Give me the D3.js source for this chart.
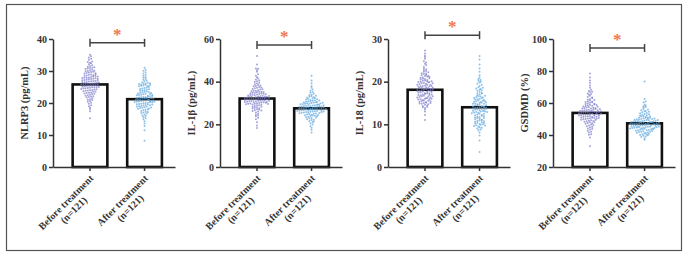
<!DOCTYPE html>
<html>
<head>
<meta charset="utf-8">
<script src="https://cdn.jsdelivr.net/npm/d3@7"></script>
<style>
  body { margin: 0; background: #fff; }
  svg text { font-family: "Liberation Serif", "DejaVu Serif", serif; font-weight: bold; fill: #333; }
</style>
</head>
<body>
<div class="chart"></div>
<script>
"use strict";

// ---- data ----
const GROUPS = ["Before treatment", "After treatment"];
const N_LABEL = "(n=121)";
const Y_LABELS = ["NLRP3 (pg/mL)", "IL-1β (pg/mL)", "IL-18 (pg/mL)", "GSDMD (%)"];
const Y_DOMAINS = [[0, 40], [0, 60], [0, 30], [20, 100]];
const Y_TICKS = [[0, 10, 20, 30, 40], [0, 20, 40, 60], [0, 10, 20, 30], [20, 40, 60, 80, 100]];
const MEANS = [[25.8, 21.2], [32.1, 27.5], [18.1, 14.0], [53.8, 47.3]];
const BRACKET = [38.8, 57.2, 30.9, 94.4];

const nlrp3Before = [15.2, 17.4, 18.1, 18.6, 19.0, 19.3, 19.8, 20.1, 20.4, 20.6, 20.9,
  21.0, 21.2, 21.5, 21.7, 21.9, 22.0, 22.1, 22.3, 22.4, 22.6, 22.8, 22.9,
  23.0, 23.1, 23.2, 23.3, 23.5, 23.6, 23.7, 23.8, 23.9,
  24.0, 24.1, 24.2, 24.3, 24.4, 24.5, 24.6, 24.7, 24.8, 24.9, 24.9,
  25.0, 25.0, 25.1, 25.2, 25.3, 25.4, 25.5, 25.6, 25.6, 25.7, 25.8, 25.9, 25.9,
  26.0, 26.0, 26.1, 26.2, 26.3, 26.4, 26.5, 26.5, 26.6, 26.7, 26.8, 26.9, 26.9,
  27.0, 27.1, 27.2, 27.3, 27.4, 27.5, 27.6, 27.7, 27.8, 27.9, 27.9, 27.5,
  28.0, 28.1, 28.3, 28.4, 28.5, 28.6, 28.8, 28.9, 28.2, 28.7,
  29.0, 29.2, 29.4, 29.5, 29.7, 29.8, 29.9, 29.3,
  30.0, 30.2, 30.4, 30.6, 30.8, 30.9, 30.1,
  31.0, 31.3, 31.6, 31.8, 31.2, 32.1, 32.4, 32.8, 32.6,
  33.0, 33.5, 33.8, 34.2, 34.6, 35.1];
const nlrp3After = [8.2, 11.5, 12.8, 13.6, 14.3, 14.9, 15.2, 15.6, 15.9,
  16.1, 16.4, 16.7, 16.9, 17.0, 17.3, 17.5, 17.8, 17.9,
  18.0, 18.2, 18.4, 18.5, 18.7, 18.8, 18.9, 18.3,
  19.0, 19.1, 19.2, 19.4, 19.5, 19.6, 19.7, 19.8, 19.9, 19.3, 19.5,
  20.0, 20.1, 20.2, 20.3, 20.4, 20.5, 20.6, 20.7, 20.8, 20.9, 20.2, 20.5, 20.7,
  21.0, 21.1, 21.2, 21.3, 21.4, 21.5, 21.6, 21.7, 21.8, 21.9, 21.2, 21.5, 21.8,
  22.0, 22.1, 22.2, 22.4, 22.5, 22.6, 22.7, 22.9, 22.3, 22.8,
  23.0, 23.2, 23.3, 23.5, 23.6, 23.8, 23.9, 23.4,
  24.0, 24.2, 24.4, 24.5, 24.7, 24.9, 24.3,
  25.0, 25.2, 25.4, 25.5, 25.7, 25.9, 25.3, 25.6, 25.8,
  26.0, 26.1, 26.3, 26.5, 26.8, 26.2, 27.0, 27.3, 27.6, 27.9,
  28.1, 28.5, 28.8, 29.2, 29.6, 30.1, 30.4, 31.0,
  17.2, 18.6, 20.4, 21.4, 22.5, 23.1];

const il1bBefore = [18.3, 19.5, 21.0, 22.4, 23.1, 23.8, 24.5, 25.0, 25.6,
  26.0, 26.3, 26.7, 27.1, 27.4, 27.8, 28.0, 28.3, 28.6, 28.9, 26.9,
  29.0, 29.2, 29.4, 29.6, 29.8, 29.3, 29.7, 29.9,
  30.0, 30.2, 30.3, 30.5, 30.6, 30.8, 30.9, 30.1, 30.4, 30.7,
  31.0, 31.1, 31.3, 31.4, 31.6, 31.7, 31.9, 31.2, 31.5, 31.8,
  32.0, 32.1, 32.3, 32.4, 32.6, 32.8, 32.9, 32.2, 32.5, 32.7,
  33.0, 33.2, 33.4, 33.5, 33.7, 33.9, 33.1, 33.6,
  34.0, 34.2, 34.4, 34.6, 34.8, 34.3, 34.7,
  35.0, 35.3, 35.5, 35.8, 35.2, 35.6, 36.0, 36.3, 36.6, 36.9, 36.4,
  37.1, 37.5, 37.8, 37.3, 38.0, 38.4, 38.8, 38.2, 39.1, 39.5, 39.9,
  40.2, 40.6, 41.0, 41.5, 42.1, 42.8, 43.5, 44.6, 45.3, 46.2, 46.0, 48.1, 52.0,
  27.5, 28.2, 29.5, 30.5, 31.0, 31.6, 32.3, 32.9, 33.3, 34.1, 35.1, 26.5, 24.1];
const il1bAfter = [16.2, 17.5, 18.4, 19.2, 19.9, 20.5, 21.0, 21.6, 22.0, 22.4, 22.8,
  23.0, 23.3, 23.6, 23.9, 24.1, 24.3, 24.6, 24.8, 24.0, 24.5,
  25.0, 25.2, 25.4, 25.6, 25.8, 25.1, 25.5, 25.9,
  26.0, 26.1, 26.3, 26.4, 26.6, 26.7, 26.9, 26.2, 26.5, 26.8,
  27.0, 27.1, 27.2, 27.4, 27.5, 27.7, 27.8, 27.9, 27.3, 27.6, 27.0,
  28.0, 28.1, 28.3, 28.4, 28.6, 28.7, 28.9, 28.2, 28.5, 28.8,
  29.0, 29.2, 29.4, 29.5, 29.7, 29.9, 29.1, 29.6,
  30.0, 30.2, 30.4, 30.6, 30.8, 30.3, 30.7,
  31.0, 31.3, 31.6, 31.9, 31.4, 32.1, 32.5, 32.9, 32.3, 33.2, 33.6, 33.9,
  34.3, 34.8, 35.2, 35.7, 36.3, 37.1, 38.0, 39.2, 40.5, 42.8,
  21.3, 22.2, 23.1, 23.8, 24.4, 25.3, 25.7, 26.0, 26.4, 26.9, 27.2, 27.6,
  28.0, 28.4, 28.9, 29.3, 29.8, 30.1, 30.5, 31.2, 31.7, 32.7, 33.4];

const il18Before = [11.0, 12.2, 13.0, 13.5, 14.0, 14.3, 14.6, 14.9, 14.4, 14.8,
  15.0, 15.1, 15.3, 15.4, 15.6, 15.8, 15.9, 15.2, 15.5, 15.7,
  16.0, 16.1, 16.3, 16.4, 16.6, 16.7, 16.9, 16.2, 16.5, 16.8,
  17.0, 17.1, 17.2, 17.4, 17.5, 17.7, 17.8, 17.9, 17.3, 17.6,
  18.0, 18.1, 18.2, 18.3, 18.5, 18.6, 18.8, 18.9, 18.4, 18.7, 18.0, 18.5,
  19.0, 19.1, 19.3, 19.4, 19.6, 19.7, 19.9, 19.2, 19.5, 19.8,
  20.0, 20.2, 20.3, 20.5, 20.7, 20.9, 20.1, 20.6,
  21.0, 21.3, 21.5, 21.8, 21.2, 21.6, 22.0, 22.3, 22.7, 22.5,
  23.1, 23.5, 23.9, 24.2, 24.8, 25.4, 26.1, 26.6, 27.3,
  13.8, 14.1, 14.7, 15.0, 15.4, 15.9, 16.0, 16.3, 16.6, 16.9, 17.0, 17.3, 17.6,
  17.9, 18.1, 18.3, 18.6, 18.9, 19.0, 19.3, 19.6, 19.9, 20.1, 20.4, 20.8,
  21.1, 21.4, 21.9, 22.2, 22.9, 24.5, 25.8];
const il18After = [3.5, 6.2, 7.4, 8.1, 8.6, 9.0, 9.3, 9.6, 9.8, 9.5, 9.9,
  10.0, 10.2, 10.4, 10.6, 10.8, 10.1, 10.5, 10.9,
  11.0, 11.2, 11.4, 11.6, 11.8, 11.3, 11.7,
  12.0, 12.1, 12.3, 12.5, 12.6, 12.8, 12.9, 12.2, 12.7,
  13.0, 13.1, 13.2, 13.4, 13.5, 13.7, 13.8, 13.9, 13.3, 13.6, 13.0,
  14.0, 14.1, 14.2, 14.4, 14.5, 14.6, 14.8, 14.9, 14.3, 14.7, 14.0,
  15.0, 15.1, 15.3, 15.4, 15.6, 15.8, 15.2, 15.5, 15.9,
  16.0, 16.2, 16.4, 16.6, 16.8, 16.1, 16.5, 17.0, 17.3, 17.6, 17.9, 17.2,
  18.1, 18.4, 18.7, 18.3, 19.0, 19.5, 19.8,
  20.2, 20.6, 21.0, 21.5, 22.3, 23.1, 24.0, 25.2, 26.0,
  8.8, 9.2, 9.7, 10.3, 10.7, 11.1, 11.5, 11.9, 12.4, 12.9, 13.3, 13.6, 13.9,
  14.2, 14.5, 14.8, 15.1, 15.4, 15.7, 16.3, 16.7, 17.4, 18.0, 18.6, 19.3, 20.0, 20.4];

const gsdmdBefore = [33.0, 38.5, 40.2, 41.5, 42.6, 43.4, 44.1, 44.8, 45.5, 46.0, 46.6,
  47.1, 47.5, 47.9, 48.3, 48.6, 48.9, 49.2, 49.5, 49.8,
  50.0, 50.3, 50.5, 50.8, 51.0, 51.2, 51.5, 51.7, 51.9, 50.6, 51.3,
  52.0, 52.2, 52.4, 52.6, 52.8, 53.0, 53.2, 53.4, 53.6, 53.8, 52.5, 53.1,
  54.0, 54.2, 54.4, 54.6, 54.8, 55.0, 55.2, 55.4, 55.6, 55.8, 54.5, 55.1,
  56.0, 56.3, 56.6, 56.9, 57.2, 57.5, 57.8, 56.5, 57.0,
  58.1, 58.5, 58.9, 59.3, 59.7, 58.3, 59.0,
  60.1, 60.6, 61.0, 61.5, 62.0, 60.4, 62.5, 63.1, 63.8, 64.5,
  65.2, 66.0, 66.8, 67.5, 68.3, 69.5, 71.0, 72.5, 74.0, 76.0, 78.5,
  40.5, 42.0, 43.8, 45.0, 46.3, 47.3, 48.0, 48.8, 49.4, 50.1, 50.7, 51.4,
  52.1, 52.7, 53.3, 53.9, 54.3, 54.9, 55.5, 56.2, 56.8, 57.6, 58.7, 59.5,
  60.8, 61.8, 63.4, 65.7, 67.0];
const gsdmdAfter = [37.0, 38.0, 38.8, 39.5, 40.0, 40.5, 41.0, 41.4, 41.8,
  42.1, 42.4, 42.7, 43.0, 43.3, 43.6, 43.9,
  44.1, 44.3, 44.5, 44.7, 44.9, 44.2, 44.6,
  45.0, 45.2, 45.4, 45.6, 45.8, 45.1, 45.5, 45.9,
  46.0, 46.2, 46.4, 46.6, 46.8, 46.1, 46.5, 46.9,
  47.0, 47.2, 47.4, 47.6, 47.8, 47.1, 47.5, 47.9,
  48.0, 48.2, 48.4, 48.6, 48.8, 48.3, 48.7,
  49.0, 49.3, 49.6, 49.9, 49.2, 49.7, 50.0, 50.4, 50.8, 50.2, 50.6,
  51.0, 51.5, 51.9, 51.3, 52.2, 52.7, 53.1, 53.6, 54.2, 54.8, 55.5, 56.3,
  57.2, 58.0, 59.1, 60.5, 62.5, 73.5,
  39.0, 39.8, 40.3, 40.8, 41.2, 41.6, 42.0, 42.5, 42.9, 43.2, 43.5, 43.8,
  44.0, 44.4, 44.8, 45.3, 45.7, 46.3, 46.7, 47.3, 47.7, 48.1, 48.5, 48.9,
  49.4, 49.8, 50.3, 50.9, 51.7, 52.4, 53.0, 53.8, 54.5, 55.0, 56.0, 57.5, 58.5, 61.0];

const POINTS = [
  [nlrp3Before, nlrp3After],
  [il1bBefore, il1bAfter],
  [il18Before, il18After],
  [gsdmdBefore, gsdmdAfter],
];

// ---- layout ----
const WIDTH = 691, HEIGHT = 262;
const PANEL_X = [53, 220, 388, 553];
const PANEL_W = 122;
const TOP = 39, BOTTOM = 167;
const DOT_COLORS = ["#7d7ccb", "#5ca6de"];
const DOT_R = 1.0, DOT_STEP = 2.2;

const svg = d3.select(".chart").append("svg")
  .attr("width", WIDTH).attr("height", HEIGHT);

// outer frame
svg.append("rect")
  .attr("x", 6.5).attr("y", 4.5)
  .attr("width", 675).attr("height", 246)
  .attr("fill", "none").attr("stroke", "#555").attr("stroke-width", 1.2);

// simple dot-plot layout: bin by pixel row, spread points sideways
function swarm(values, y, cx) {
  const rows = d3.group(values, (v) => Math.round(y(v) / DOT_STEP));
  const out = [];
  for (const [row, vals] of rows) {
    vals.forEach((v, i) => {
      out.push({ x: cx + (i - (vals.length - 1) / 2) * DOT_STEP, y: y(v) });
    });
  }
  return out;
}

function drawPanel(p) {
  const x0 = PANEL_X[p];
  const g = svg.append("g");

  const y = d3.scaleLinear().domain(Y_DOMAINS[p]).range([BOTTOM, TOP]);
  const x = d3.scaleBand().domain(GROUPS)
    .range([x0, x0 + PANEL_W])
    .paddingInner(20 / 55)
    .paddingOuter(0.3)
    .align(0.6);

  // bars
  g.selectAll("rect.bar")
    .data(GROUPS)
    .join("rect")
    .attr("class", "bar")
    .attr("x", (d) => x(d))
    .attr("y", (d, i) => y(MEANS[p][i]))
    .attr("width", x.bandwidth())
    .attr("height", (d, i) => BOTTOM - y(MEANS[p][i]))
    .attr("fill", "#fff")
    .attr("stroke", "#111")
    .attr("stroke-width", 2.6);

  // dots
  GROUPS.forEach((grp, i) => {
    const cx = x(grp) + x.bandwidth() / 2;
    g.append("g").selectAll("circle")
      .data(swarm(POINTS[p][i], y, cx))
      .join("circle")
      .attr("cx", (d) => d.x)
      .attr("cy", (d) => d.y)
      .attr("r", DOT_R)
      .attr("fill", DOT_COLORS[i])
      .attr("fill-opacity", 0.7);
  });

  // axes
  const yAxis = g.append("g")
    .attr("transform", `translate(${x0},0)`)
    .call(d3.axisLeft(y).tickValues(Y_TICKS[p]).tickSize(4).tickSizeOuter(0).tickPadding(2));
  const xAxis = g.append("g")
    .attr("transform", `translate(0,${BOTTOM})`)
    .call(d3.axisBottom(x).tickSize(4).tickSizeOuter(0).tickFormat(""));
  [yAxis, xAxis].forEach((a) => {
    a.select(".domain").attr("stroke", "#333").attr("stroke-width", 1.5);
    a.selectAll(".tick line").attr("stroke", "#333").attr("stroke-width", 1.5);
  });
  yAxis.selectAll(".tick text")
    .attr("font-size", 10)
    .attr("font-family", "Liberation Serif, serif")
    .attr("font-weight", "bold")
    .attr("fill", "#333");

  // y label
  g.append("text")
    .attr("transform", `translate(${x0 - 25},${(TOP + BOTTOM) / 2}) rotate(-90)`)
    .attr("text-anchor", "middle")
    .attr("font-size", 10.5)
    .text(Y_LABELS[p]);

  // x labels (rotated)
  GROUPS.forEach((grp) => {
    const cx = x(grp) + x.bandwidth() / 2;
    const lg = g.append("g")
      .attr("transform", `translate(${cx + 4},${BOTTOM + 12}) rotate(-45)`);
    const t1 = lg.append("text")
      .attr("text-anchor", "end")
      .attr("font-size", 10)
      .text(grp);
    const w = t1.node().getComputedTextLength();
    lg.append("text")
      .attr("x", -w / 2)
      .attr("y", 11)
      .attr("text-anchor", "middle")
      .attr("font-size", 10)
      .text(N_LABEL);
  });

  // significance bracket
  const c1 = x(GROUPS[0]) + x.bandwidth() / 2;
  const c2 = x(GROUPS[1]) + x.bandwidth() / 2;
  const by = y(BRACKET[p]);
  const br = g.append("g").attr("stroke", "#444").attr("stroke-width", 1.5);
  br.append("line").attr("x1", c1).attr("x2", c2).attr("y1", by).attr("y2", by);
  [c1, c2].forEach((cx) => {
    br.append("line").attr("x1", cx).attr("x2", cx).attr("y1", by - 4).attr("y2", by + 4);
  });
  g.append("text")
    .attr("x", (c1 + c2) / 2)
    .attr("y", by - 3)
    .attr("text-anchor", "middle")
    .attr("font-size", 17)
    .attr("font-family", "DejaVu Sans, sans-serif")
    .style("fill", "#f07850")
    .text("*");
}

for (let p = 0; p < 4; p++) drawPanel(p);
</script>
</body>
</html>
